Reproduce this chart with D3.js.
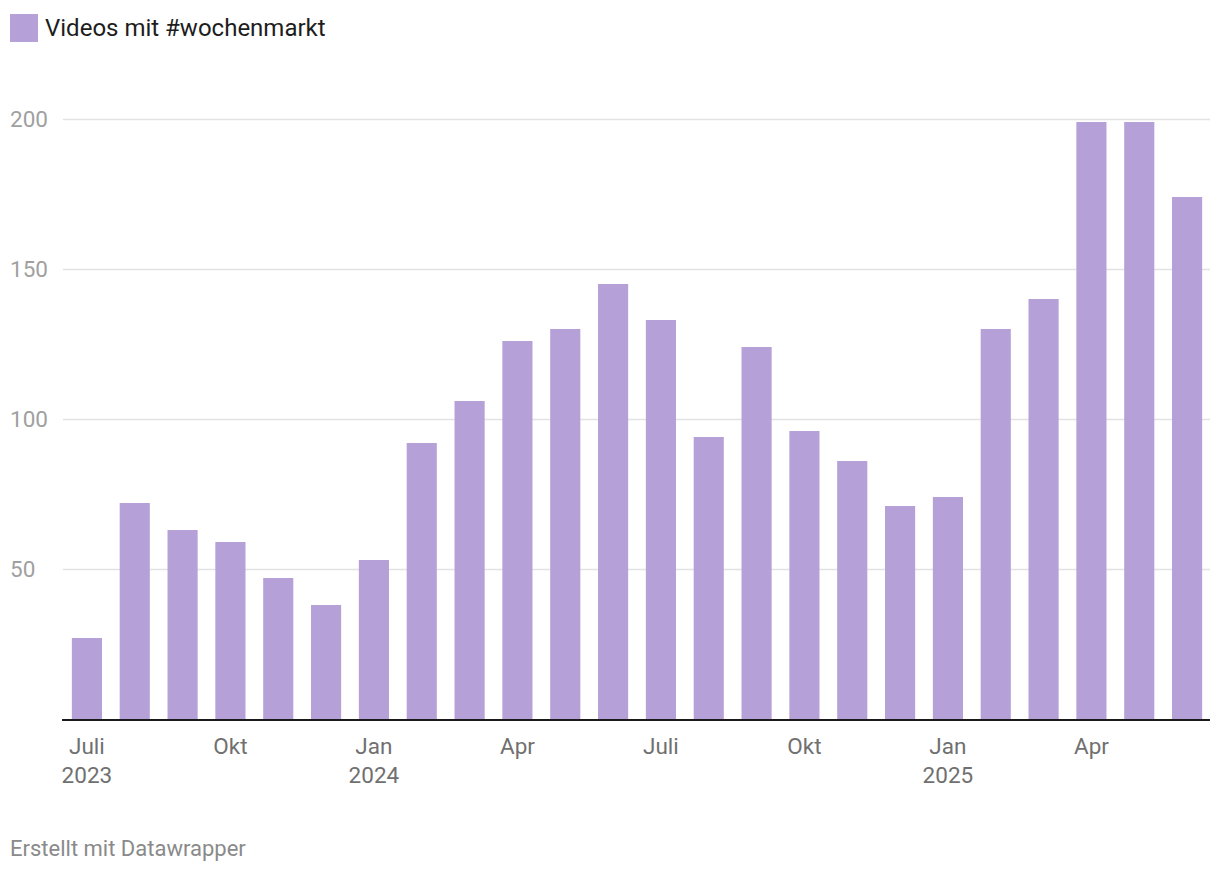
<!DOCTYPE html>
<html lang="de">
<head>
<meta charset="utf-8">
<title>Videos mit #wochenmarkt</title>
<script src="https://d3js.org/d3.v7.min.js"></script>
<style>
    body { margin: 0; background: #fff; font-family: Roboto, "Noto Sans", sans-serif; }
    .grid line { stroke: #e2e2e2; stroke-width: 1.5px; }
    .ylab { fill: #a0a0a0; font-size: 22.5px; }
    .xlab { fill: #707070; font-size: 22.5px; }
</style>
</head>
<body>
<svg width="1220" height="874"></svg>
<script>
    // monthly counts, Juli 2023 .. Juni 2025
    var months = ["2023-07", "2023-08", "2023-09", "2023-10", "2023-11", "2023-12",
        "2024-01", "2024-02", "2024-03", "2024-04", "2024-05", "2024-06",
        "2024-07", "2024-08", "2024-09", "2024-10", "2024-11", "2024-12",
        "2025-01", "2025-02", "2025-03", "2025-04", "2025-05", "2025-06"];
    var videos = [27, 72, 63, 59, 47, 38, 53, 92, 106, 126, 130, 145,
        133, 94, 124, 96, 86, 71, 74, 130, 140, 199, 199, 174];
    var yTicks = [50, 100, 150, 200];
    // x labels: [month, line1, line2]
    var xLabels = [
        ["2023-07", "Juli", "2023"], ["2023-10", "Okt", ""],
        ["2024-01", "Jan", "2024"], ["2024-04", "Apr", ""],
        ["2024-07", "Juli", ""], ["2024-10", "Okt", ""],
        ["2025-01", "Jan", "2025"], ["2025-04", "Apr", ""]
    ];
    var seriesName = "Videos mit #wochenmarkt";
    var barColor = "#b5a1d8";

    var svg = d3.select("svg");

    var x = d3.scaleBand().domain(months).range([63, 1211]).paddingInner(0.37).paddingOuter(0.185);
    var y = d3.scaleLinear().domain([0, 200]).range([719, 119]);

    // legend
    svg.append("rect").attr("x", 10).attr("y", 14).attr("width", 28).attr("height", 28).attr("fill", barColor);
    svg.append("text").attr("x", 45).attr("y", 36).attr("font-size", 24).attr("fill", "#1d1d1d").text(seriesName);

    // gridlines
    svg.append("g").attr("class", "grid").selectAll("line").data(yTicks).join("line")
        .attr("x1", 63).attr("x2", 1210)
        .attr("y1", d => y(d) + 0.5).attr("y2", d => y(d) + 0.5);

    svg.append("g").selectAll("text").data(yTicks).join("text")
        .attr("class", "ylab")
        .attr("x", 10).attr("y", d => y(d) + 8)
        .text(d => d);

    // bars
    svg.append("g").selectAll("rect").data(videos).join("rect")
        .attr("x", (d, i) => x(months[i]))
        .attr("width", x.bandwidth())
        .attr("y", d => y(d))
        .attr("height", d => y(0) - y(d))
        .attr("fill", barColor);

    // baseline
    svg.append("line").attr("x1", 62).attr("x2", 1210)
        .attr("y1", y(0) + 1).attr("y2", y(0) + 1)
        .attr("stroke", "#1a1a1a").attr("stroke-width", 2);

    // x labels
    var xl = svg.append("g").selectAll("text").data(xLabels).join("text")
        .attr("class", "xlab")
        .attr("text-anchor", "middle")
        .attr("transform", d => "translate(" + (x(d[0]) + x.bandwidth() / 2) + ",0)");
    xl.append("tspan").attr("x", 0).attr("y", 754).text(d => d[1]);
    xl.append("tspan").attr("x", 0).attr("y", 783).text(d => d[2]);

    svg.append("text").attr("x", 10).attr("y", 856).attr("font-size", 22).attr("fill", "#8a8a8a")
        .text("Erstellt mit Datawrapper");
</script>
</body>
</html>
